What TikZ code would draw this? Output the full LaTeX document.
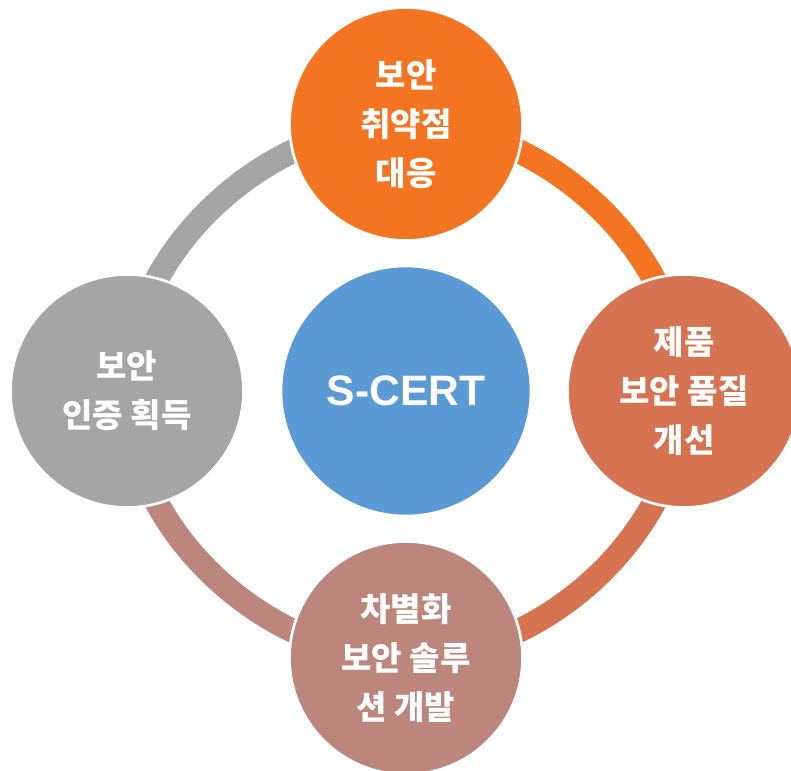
\documentclass[tikz,border=0pt]{standalone}
\usepackage{fontspec}
\newfontfamily\krfont{Noto Sans CJK KR}
\newfontfamily\latfont{Liberation Sans}
\usetikzlibrary{backgrounds}
\definecolor{cOrange}{RGB}{243,117,33}
\definecolor{cRust}{RGB}{214,116,82}
\definecolor{cRose}{RGB}{188,134,124}
\definecolor{cGray}{RGB}{165,165,165}
\definecolor{cBlue}{RGB}{91,155,213}

\begin{document}
\begin{tikzpicture}[
    bubble/.style={circle, draw=white, line width=1.5pt, minimum size=4.66cm, inner sep=0pt,
        align=center, text=white, font=\krfont\bfseries\fontsize{18.8}{28}\selectfont},
    link/.style={line width=0.48cm, looseness=0.92}]
\useasboundingbox (-8.12,-7.6) rectangle (7.7,7.82);

% centre and the four steps
\node[bubble, fill=cBlue, minimum size=5cm, font=\latfont\bfseries\fontsize{24.2}{29}\selectfont] (scert) at (0,0) {S-CERT};
\node[bubble, fill=cOrange] (vuln) at (0,5.34) {보안\\취약점\\대응};
\node[bubble, fill=cRust] (quality) at (5.56,0) {제품\\보안~품질\\개선};
\node[bubble, fill=cRose] (solution) at (0,-5.34) {차별화\\보안~솔루\\션~개발};
\node[bubble, fill=cGray] (cert) at (-5.58,0) {보안\\인증~획득};

% ring between the steps
\begin{scope}[on background layer]
\draw[link, cOrange] (vuln.center) to[out=0, in=90] (quality.center);
\draw[link, cRust] (quality.center) to[out=-90, in=0] (solution.center);
\draw[link, cRose] (solution.center) to[out=180, in=-90] (cert.center);
\draw[link, cGray] (cert.center) to[out=90, in=180] (vuln.center);
\end{scope}

\end{tikzpicture}
\end{document}
